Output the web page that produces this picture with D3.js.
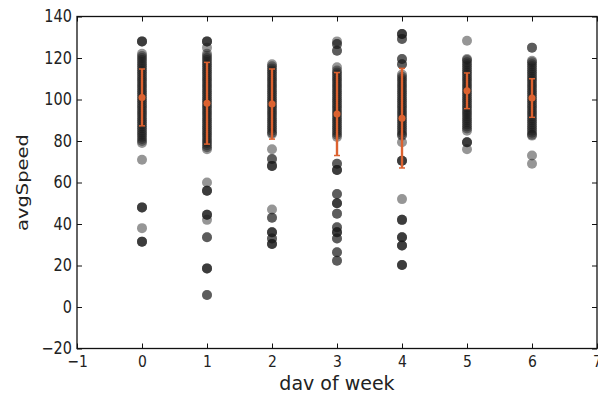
<!DOCTYPE html>
<html>
<head>
<meta charset="utf-8">
<script src="https://cdn.jsdelivr.net/npm/d3@7"></script>
<style>
  html, body { margin: 0; padding: 0; background: #fff; }
  svg { display: block; }
  text { font-family: "DejaVu Sans", sans-serif; fill: #222; }
</style>
</head>
<body>
<svg id="chart" width="598" height="394"></svg>
<script>
// ---- data ----
const days = [0, 1, 2, 3, 4, 5, 6];
const day0 = [128,128,128, 122,121,120,119,118,117,116,115,114,113,112,111,110,109,108,107,106,105,104,103,102,101,100,99,98,97,96,95,94,93,92,91,90,89,88,87,86,85,84,83,82,81,80,79,
  71, 48,48,48, 38, 31.5,31.5,31.5];
const day1 = [128,128,128, 125, 122,121,120,119,118,117,116,115,114,113,112,111,110,109,108,107,106,105,104,103,102,101,100,99,98,97,96,95,94,93,92,91,90,89,88,87,86,85,84,83,82,81,80,79,78,77,76,
  60, 56,56,56, 44.5,44.5,44.5, 42, 33.6,33.6, 18.6,18.6,18.6, 5.8,5.8];
const day2 = [117,116,115,114,113,112,111,110,109,108,107,106,105,104,103,102,101,100,99,98,97,96,95,94,93,92,91,90,89,88,87,86,85,84,83.4,
  76, 71.3,71.3, 68,68,68, 47, 43,43, 36,36,36, 33,33, 30.4,30.4,30.4];
const day3 = [128, 126.7,126.7, 123.5,123.5, 115.5,114,113,112,111,110,109,108,107,106,105,104,103,102,101,100,99,98,97,96,95,94,93,92,91,90,89,88,87,86,85,84,83,82,
  69,69, 66,66,66, 54.5,54.5, 50,50,50, 45,45, 38.4,38.4, 36,36,36, 33,33, 26.4,26.4, 22.3,22.3];
const day4 = [131.6,131.6,131.6, 129.2,129.2, 119.5,119.5, 117,117, 112,111,110,109,108,107,106,105,104,103,102,101,100,99,98,97,96,95,94,93,92,91,90,89,88,87,86,85,84,83,82.6,
  79.4, 70.5,70.5,70.5, 52, 42,42,42, 33.6,33.6,33.6, 29.6,29.6,29.6, 20.2,20.2,20.2];
const day5 = [128.3, 119.5,119,118,117,116,115,114,113,112,111,110,109,108,107,106,105,104,103,102,101,100,99,98,97,96,95,94,93,92,91,90,89,88,87,86,85,
  79.4,79.4,79.4, 76];
const day6 = [125,125, 118.7,118,117,116,115,114,113,112,111,110,109,108,107,106,105,104,103,102,101,100,99,98,97,96,95,94,93,92,91,90,89,88,87,86,85,84,83,82.6,
  73, 69];
const dayValues = [day0, day1, day2, day3, day4, day5, day6];
const means = [101, 98.2, 97.8, 93, 91, 104.2, 100.7];
const stds = [13.7, 19.7, 16.9, 20, 24, 8.6, 9.3];
const xTicks = [-1, 0, 1, 2, 3, 4, 5, 6, 7];
const yTicks = [-20, 0, 20, 40, 60, 80, 100, 120, 140];
const xLabel = "dav of week";
const yLabel = "avgSpeed";

// ---- chart ----
const W = 598, H = 394;
const m = { left: 77, top: 16.5, right: 1, bottom: 45.5 };
const svg = d3.select("#chart");
const x = d3.scaleLinear().domain([-1, 7]).range([m.left, W - m.right]);
const y = d3.scaleLinear().domain([-20, 140]).range([H - m.bottom, m.top]);

// points
const pts = [];
days.forEach((d, i) => dayValues[i].forEach(v => pts.push({ d, v })));
svg.append("g").selectAll("circle").data(pts).join("circle")
  .attr("cx", p => x(p.d)).attr("cy", p => y(p.v)).attr("r", 5)
  .attr("fill", "#161616").attr("fill-opacity", 0.45);

// error bars
const eb = svg.append("g").attr("stroke", "#dc6230").attr("fill", "#dc6230");
days.forEach((d, i) => {
  const cx = x(d);
  eb.append("line").attr("x1", cx).attr("x2", cx)
    .attr("y1", y(means[i] - stds[i])).attr("y2", y(means[i] + stds[i])).attr("stroke-width", 2.4);
  [means[i] - stds[i], means[i] + stds[i]].forEach(v => {
    eb.append("line").attr("x1", cx - 3).attr("x2", cx + 3)
      .attr("y1", y(v)).attr("y2", y(v)).attr("stroke-width", 1.5);
  });
  eb.append("circle").attr("cx", cx).attr("cy", y(means[i])).attr("r", 3.5).attr("stroke", "none");
});

// frame
svg.append("rect").attr("x", m.left).attr("y", m.top)
  .attr("width", W - m.right - m.left).attr("height", H - m.bottom - m.top)
  .attr("fill", "none").attr("stroke", "#111").attr("stroke-width", 1.3);

// axes (ticks inward)
const fmt = d => d < 0 ? "\u2212" + Math.abs(d) : d;
const tickStyle = g => { g.select(".domain").remove(); g.selectAll("line").attr("stroke", "#111"); g.selectAll("text").attr("fill", "#222"); };
svg.append("g").attr("transform", `translate(0,${H - m.bottom})`)
  .call(d3.axisBottom(x).tickValues(xTicks).tickFormat(fmt).tickSizeInner(-5).tickPadding(7))
  .call(tickStyle).selectAll("text").style("font-size", "16px").attr("transform", "scale(0.87,1)");
svg.append("g").attr("transform", `translate(0,${m.top})`)
  .call(d3.axisTop(x).tickValues(xTicks).tickFormat("").tickSizeInner(-5))
  .call(tickStyle);
svg.append("g").attr("transform", `translate(${m.left},0)`)
  .call(d3.axisLeft(y).tickValues(yTicks).tickFormat(fmt).tickSizeInner(-5).tickPadding(6))
  .call(tickStyle).selectAll("text").style("font-size", "17px").attr("transform", "scale(0.85,1)");
svg.append("g").attr("transform", `translate(${W - m.right},0)`)
  .call(d3.axisRight(y).tickValues(yTicks).tickFormat("").tickSizeInner(-5))
  .call(tickStyle);

// labels
svg.append("text").attr("x", (m.left + W - m.right) / 2).attr("y", 390)
  .attr("text-anchor", "middle").style("font-size", "19px").text(xLabel);
svg.append("text").attr("transform", `translate(27.5,${(m.top + H - m.bottom) / 2}) scale(0.85,1) rotate(-90)`)
  .attr("text-anchor", "middle").style("font-size", "19.5px").text(yLabel);
</script>
</body>
</html>
